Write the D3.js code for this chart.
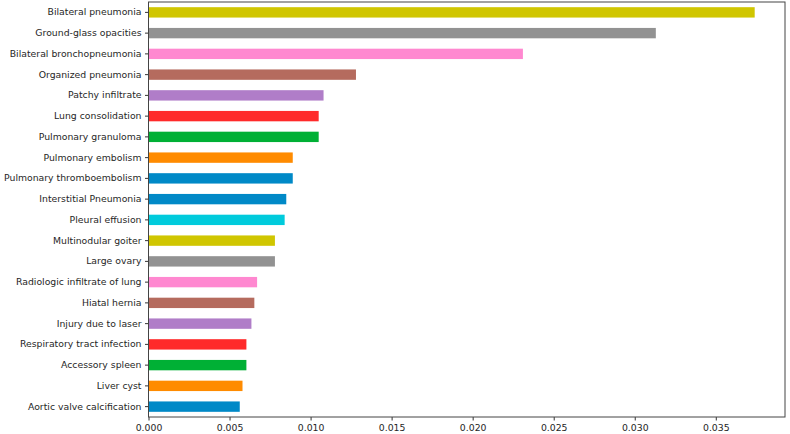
<!DOCTYPE html>
<html>
<head>
<meta charset="utf-8">
<script src="https://cdn.jsdelivr.net/npm/d3@7"></script>
<style>
  body { margin: 0; background: #fff; }
  text { font-family: "DejaVu Sans", sans-serif; }
</style>
</head>
<body>
<div id="chart"></div>
<script>
// top to bottom
const categories = [
  'Bilateral pneumonia', 'Ground-glass opacities', 'Bilateral bronchopneumonia',
  'Organized pneumonia', 'Patchy infiltrate', 'Lung consolidation',
  'Pulmonary granuloma', 'Pulmonary embolism', 'Pulmonary thromboembolism',
  'Interstitial Pneumonia', 'Pleural effusion', 'Multinodular goiter',
  'Large ovary', 'Radiologic infiltrate of lung', 'Hiatal hernia',
  'Injury due to laser', 'Respiratory tract infection', 'Accessory spleen',
  'Liver cyst', 'Aortic valve calcification'
];
const values = [
  0.0374, 0.0313, 0.0231, 0.0128, 0.0108, 0.0105, 0.0105, 0.0089, 0.0089, 0.0085,
  0.0084, 0.0078, 0.0078, 0.0067, 0.00653, 0.00635, 0.00604, 0.00604, 0.0058, 0.00563
];
const colors = [
  '#d0c600', '#929292', '#ff88d0', '#b56b5e', '#b07dc8', '#ff2a2a', '#00b035',
  '#ff8b00', '#0089c7', '#0089c7', '#00cbdc', '#d0c600', '#929292', '#ff88d0',
  '#b56b5e', '#b07dc8', '#ff2a2a', '#00b035', '#ff8b00', '#0089c7'
];
const xTicks = [0, 0.005, 0.01, 0.015, 0.02, 0.025, 0.03, 0.035];

const width = 790;
const height = 434;
const margin = { top: 2, bottom: 17, left: 148.5, right: 5 };

const svg = d3.select('#chart')
  .append('svg')
  .attr('width', width)
  .attr('height', height);

const x = d3.scaleLinear()
  .domain([0, d3.max(values) * 1.05])
  .range([margin.left, width - margin.right]);

const y = d3.scaleBand()
  .domain(categories)
  .range([margin.top, height - margin.bottom])
  .paddingInner(0.5)
  .paddingOuter(0.25);

svg.append('g')
  .selectAll('rect')
  .data(categories)
  .join('rect')
    .attr('x', x(0))
    .attr('y', d => y(d))
    .attr('width', (d, i) => x(values[i]) - x(0))
    .attr('height', y.bandwidth())
    .attr('fill', (d, i) => colors[i]);

function xAxis(g) {
  g.attr('transform', `translate(0,${height - margin.bottom})`)
    .call(d3.axisBottom(x).tickValues(xTicks).tickFormat(d3.format('.3f')).tickSizeOuter(0).tickSize(3.5).tickPadding(3.5))
    .attr('font-size', '9.3px')
    .call(g => g.select('.domain').remove())
    .call(g => g.selectAll('line').attr('stroke', '#333'))
    .call(g => g.selectAll('text').attr('fill', '#262626'));
}

function yAxis(g) {
  g.attr('transform', `translate(${margin.left},0)`)
    .call(d3.axisLeft(y).tickSizeOuter(0).tickSize(3.5).tickPadding(3.5))
    .attr('font-size', '9.3px')
    .call(g => g.select('.domain').remove())
    .call(g => g.selectAll('line').attr('stroke', '#333'))
    .call(g => g.selectAll('text').attr('fill', '#262626'));
}

svg.append('g').call(xAxis);
svg.append('g').call(yAxis);

// frame
svg.append('rect')
  .attr('x', margin.left)
  .attr('y', margin.top)
  .attr('width', width - margin.right - margin.left)
  .attr('height', height - margin.bottom - margin.top)
  .attr('fill', 'none')
  .attr('stroke', '#444')
  .attr('stroke-width', 1);
</script>
</body>
</html>
